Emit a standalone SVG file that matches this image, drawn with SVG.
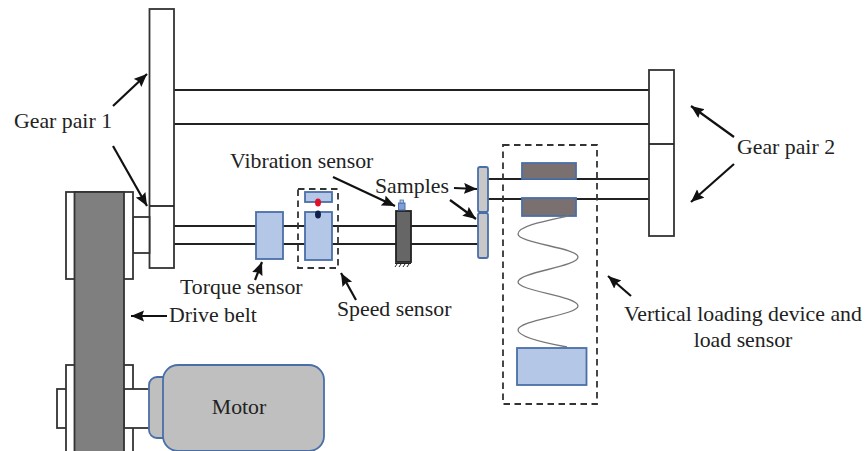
<svg xmlns="http://www.w3.org/2000/svg" width="865" height="451" viewBox="0 0 865 451">
<style>
.k{fill:#fff;stroke:#333;stroke-width:1.8}
.l{fill:none;stroke:#222;stroke-width:1.8}
.b{fill:#b4c7e7;stroke:#4a6fa8;stroke-width:1.8}
.d{fill:none;stroke:#333;stroke-width:1.8;stroke-dasharray:6.5 4.5}
.a{fill:none;stroke:#111;stroke-width:2.2;marker-end:url(#h)}
text{font-family:"Liberation Serif","Times New Roman",serif;font-size:21.8px;fill:#222}
</style>
<defs>
<marker id="h" markerUnits="userSpaceOnUse" markerWidth="14" markerHeight="12" refX="13" refY="5.500" orient="auto"><path d="M0 0L13 5.500L0 11L2 5.500Z" fill="#111"/></marker>
</defs>
<rect width="865" height="451" fill="#fff"/>
<g id="connectors">
<path class="l" d="M174 90H649M174 124H649M174 226H478M174 244H478M488 179H649M488 199H649"/>
<path class="a" d="M113 106L147 74"/>
<path class="a" d="M113 146L147 206"/>
<path class="a" d="M255 280L262 262"/>
<path class="a" d="M167 316L131 316"/>
<path class="a" d="M333 177L395 206"/>
<path class="a" d="M454 188L477 189"/>
<path class="a" d="M450 200L476 219"/>
<path class="a" d="M356 300L341 273"/>
<path class="a" d="M631 296L608 276"/>
<path class="a" d="M734 137L691 106"/>
<path class="a" d="M734 164L691 202"/>
</g>
<g id="gear-pair-1">
<rect class="k" x="149.500" y="9" width="24.500" height="259"/>
<path class="l" d="M150 206H174"/>
<rect class="k" x="133" y="217" width="16.500" height="36"/>
</g>
<g id="gear-pair-2">
<rect class="k" x="649" y="70" width="25" height="166"/>
<path class="l" d="M649 144H674"/>
</g>
<g id="pulleys">
<rect class="k" x="66" y="192" width="67" height="87"/>
<rect class="k" x="57" y="389" width="18" height="39"/>
<rect class="k" x="66" y="365" width="67" height="95"/>
<rect class="k" x="124" y="389" width="26" height="39"/>
</g>
<g id="drive-belt"><rect x="74.500" y="192" width="49.500" height="270" fill="#7f7f7f" stroke="#333" stroke-width="1.8"/></g>
<g id="motor">
<rect x="149" y="377" width="25" height="61" rx="8" fill="#bfbfbf" stroke="#4a6fa8" stroke-width="1.8"/>
<rect x="163" y="365" width="161" height="86" rx="15" fill="#bfbfbf" stroke="#4a6fa8" stroke-width="1.8"/>
<text x="239" y="414" text-anchor="middle">Motor</text>
</g>
<g id="torque-sensor"><rect class="b" x="256" y="212" width="27" height="47"/></g>
<g id="speed-sensor">
<rect class="d" x="298" y="189" width="40" height="79"/>
<rect class="b" x="305" y="192" width="27" height="10"/>
<rect class="b" x="305" y="212" width="27" height="48"/>
<ellipse cx="318" cy="202.500" rx="3" ry="4" fill="#e0102a"/>
<ellipse cx="318" cy="214.500" rx="3" ry="4" fill="#10204a"/>
</g>
<g id="vibration-sensor">
<rect x="396" y="211" width="15" height="51" fill="#666" stroke="#222" stroke-width="1.800"/>
<path d="M395 263.500H411M397 264l-2 3M401 264l-2 3M405 264l-2 3M409 264l-2 3" stroke="#222" stroke-width="1" fill="none"/>
<rect x="398.500" y="203" width="6.500" height="7" fill="#7f9fd8" stroke="#4a6fa8"/>
<rect x="400" y="200" width="3.500" height="3" fill="#b4c7e7" stroke="#4a6fa8" stroke-width=".8"/>
</g>
<g id="samples">
<rect x="478" y="167" width="10" height="45" rx="2" fill="#c8c8c8" stroke="#4a6fa8" stroke-width="1.800"/>
<rect x="478" y="213" width="10" height="45" rx="2" fill="#c8c8c8" stroke="#4a6fa8" stroke-width="1.800"/>
</g>
<g id="loading-device">
<rect class="d" x="503" y="145" width="94" height="259"/>
<rect x="522" y="163" width="54" height="16" fill="#7b7070" stroke="#4a6fa8" stroke-width="1.800"/>
<rect x="522" y="198" width="54" height="18" fill="#7b7070" stroke="#4a6fa8" stroke-width="1.800"/>
<path d="M568 216C545 221 518 226 518 234C518 243 578 248 578 257C578 267 518 272 518 282C518 291 578 296 578 306C578 315 518 320 518 330C518 337 545 343 567 347" fill="none" stroke="#777" stroke-width="1.300"/>
<rect class="b" x="517" y="348" width="69.500" height="37"/>
</g>
<g id="labels">
<text x="14" y="128">Gear pair 1</text>
<text x="737" y="154">Gear pair 2</text>
<text x="230" y="168">Vibration sensor</text>
<text x="375" y="193">Samples</text>
<text x="180" y="294">Torque sensor</text>
<text x="169" y="322">Drive belt</text>
<text x="337" y="316">Speed sensor</text>
<text x="624" y="321">Vertical loading device and</text>
<text x="743" y="347" text-anchor="middle">load sensor</text>
</g>
</svg>
